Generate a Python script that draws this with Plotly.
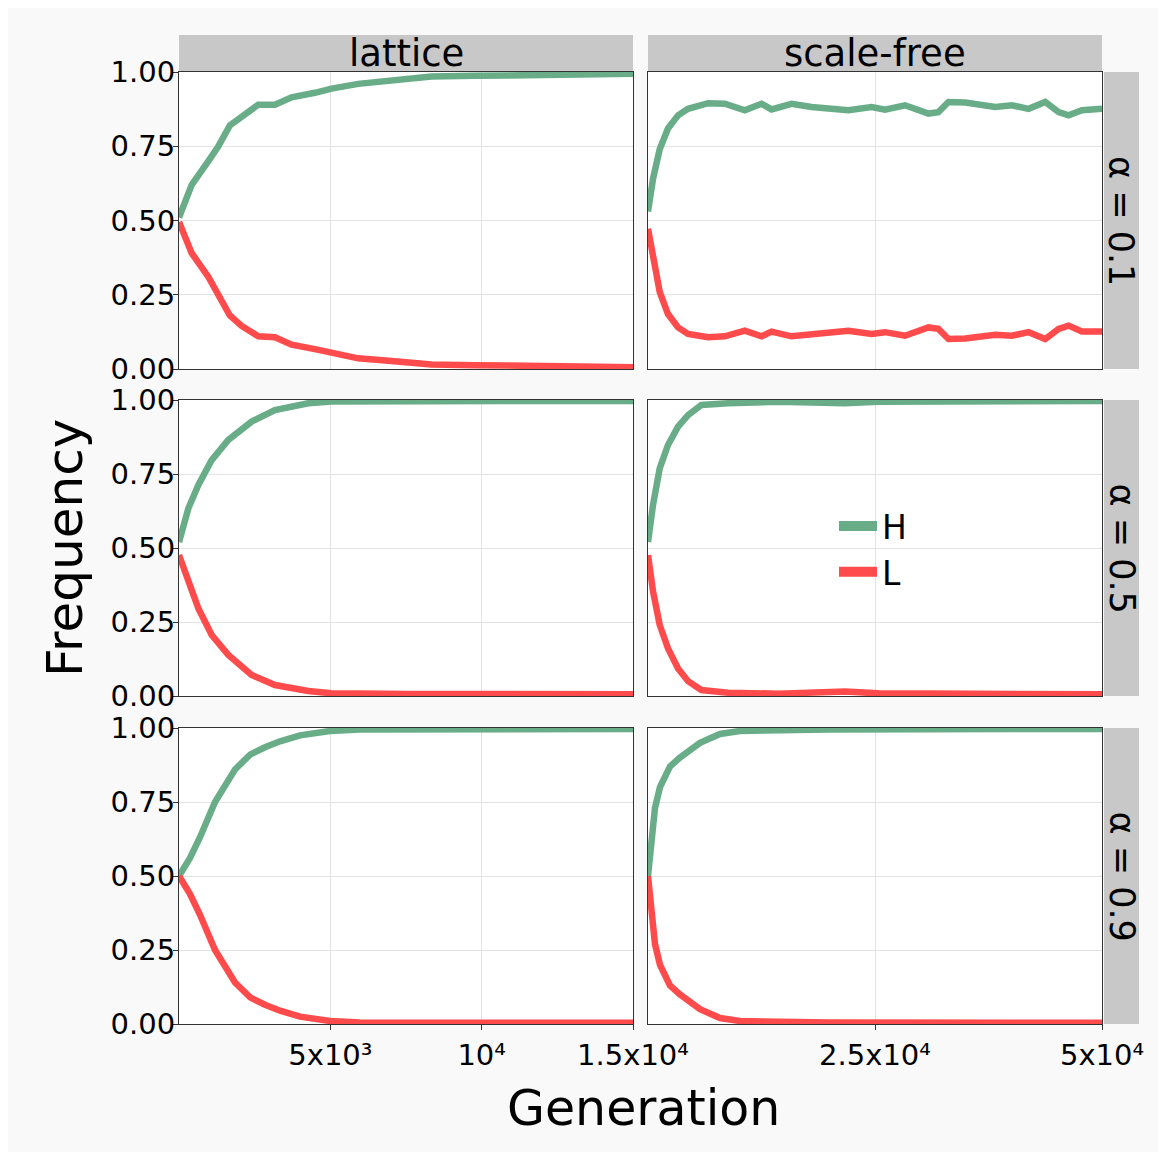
import plotly.graph_objects as go

# ---------------- data ----------------
# lattice, alpha = 0.1
gen_lat_01 = [0, 420, 970, 1300, 1680, 2070, 2620, 3170, 3720, 4490, 5040, 5920, 7020, 8340, 9770, 11420, 13070, 15000]
H_lat_01 = [0.51, 0.62, 0.70, 0.75, 0.82, 0.85, 0.89, 0.89, 0.915, 0.93, 0.944, 0.96, 0.972, 0.985, 0.987, 0.989, 0.991, 0.994]
L_lat_01 = [0.495, 0.39, 0.31, 0.25, 0.18, 0.145, 0.11, 0.107, 0.082, 0.067, 0.055, 0.036, 0.027, 0.015, 0.013, 0.011, 0.009, 0.006]

# scale-free, alpha = 0.1
gen_sf_01 = [0, 550, 1290, 2200, 3310, 4410, 6620, 8460, 10660, 12500, 13600, 15810, 18010, 20220, 22060, 24630,
             26100, 28310, 30880, 31980, 33090, 34930, 38240, 40070, 41910, 43750, 45220, 46320, 47790, 50000]
H_sf_01 = [0.53, 0.64, 0.74, 0.81, 0.854, 0.876, 0.895, 0.893, 0.871, 0.893, 0.874, 0.893, 0.882, 0.876, 0.871, 0.882,
           0.873, 0.888, 0.86, 0.865, 0.899, 0.897, 0.882, 0.888, 0.876, 0.899, 0.865, 0.854, 0.871, 0.876]
L_sf_01 = [0.472, 0.37, 0.26, 0.185, 0.14, 0.118, 0.107, 0.11, 0.129, 0.11, 0.126, 0.11, 0.118, 0.124, 0.129, 0.118,
           0.124, 0.112, 0.14, 0.135, 0.101, 0.103, 0.115, 0.112, 0.124, 0.101, 0.135, 0.146, 0.126, 0.126]

# lattice, alpha = 0.5
gen_lat_05 = [0, 310, 640, 1080, 1630, 2400, 3170, 4270, 5040, 7570, 10870, 15000]
H_lat_05 = [0.52, 0.634, 0.713, 0.797, 0.865, 0.927, 0.966, 0.989, 0.995, 0.997, 0.997, 0.997]
L_lat_05 = [0.476, 0.386, 0.296, 0.206, 0.139, 0.071, 0.037, 0.017, 0.009, 0.007, 0.007, 0.006]

# scale-free, alpha = 0.5
gen_sf_05 = [0, 550, 1290, 2200, 3310, 4410, 5880, 8820, 14340, 19850, 21690, 25370, 36400, 50000]
H_sf_05 = [0.52, 0.645, 0.769, 0.848, 0.91, 0.949, 0.983, 0.989, 0.994, 0.992, 0.989, 0.994, 0.994, 0.997]
L_sf_05 = [0.476, 0.354, 0.24, 0.161, 0.093, 0.05, 0.02, 0.011, 0.008, 0.012, 0.015, 0.009, 0.008, 0.006]

# lattice, alpha = 0.9
gen_lat_09 = [0, 360, 690, 1190, 1850, 2350, 2840, 3340, 4000, 4990, 5980, 15000]
H_lat_09 = [0.5, 0.56, 0.63, 0.75, 0.86, 0.91, 0.935, 0.955, 0.975, 0.99, 0.995, 0.997]
L_lat_09 = [0.5, 0.44, 0.37, 0.25, 0.14, 0.09, 0.065, 0.045, 0.025, 0.01, 0.005, 0.004]

# scale-free, alpha = 0.9
gen_sf_09 = [0, 770, 1320, 2420, 3520, 5730, 7930, 10130, 20000, 35000, 50000]
H_sf_09 = [0.5, 0.73, 0.8, 0.87, 0.9, 0.95, 0.98, 0.99, 0.995, 0.996, 0.997]
L_sf_09 = [0.5, 0.27, 0.2, 0.13, 0.1, 0.05, 0.02, 0.01, 0.005, 0.004, 0.004]

networks = ["lattice", "scale-free"]
alphas = ["α = 0.1", "α = 0.5", "α = 0.9"]
series_names = ["H", "L"]

panels = {
    (0, 0): (gen_lat_01, H_lat_01, L_lat_01),
    (0, 1): (gen_sf_01, H_sf_01, L_sf_01),
    (1, 0): (gen_lat_05, H_lat_05, L_lat_05),
    (1, 1): (gen_sf_05, H_sf_05, L_sf_05),
    (2, 0): (gen_lat_09, H_lat_09, L_lat_09),
    (2, 1): (gen_sf_09, H_sf_09, L_sf_09),
}

x_max = [15000, 50000]
x_tickvals = [[5000, 10000, 15000], [25000, 50000]]
x_ticktext = [["5x10³", "10⁴", "1.5x10⁴"], ["2.5x10⁴", "5x10⁴"]]
y_tickvals = [0, 0.25, 0.5, 0.75, 1.0]
y_ticktext = ["0.00", "0.25", "0.50", "0.75", "1.00"]

# ---------------- styling ----------------
GREEN = "#69ad88"
RED = "#ff4b4b"
colors = {"H": GREEN, "L": RED}
FONT = "DejaVu Sans"
STRIP = "#c8c8c8"

W, H = 1150, 1144
ML, MR, MT, MB = 171, 56, 64, 128
PW = W - ML - MR
PH = H - MT - MB

def px_x(a, b):
    return [(a - ML) / PW, (b - ML) / PW]

def px_y(top, bottom):
    # figure pixel rows -> paper domain
    return [(H - MB - bottom) / PH, (H - MB - top) / PH]

col_dom = [px_x(171, 625), px_x(640, 1094)]
row_dom = [px_y(64, 361), px_y(392, 688), px_y(720, 1016)]

fig = go.Figure()
layout = {}

for (r, c), (gx, hy, ly) in panels.items():
    idx = r * 2 + c + 1
    xa = "x" if idx == 1 else f"x{idx}"
    ya = "y" if idx == 1 else f"y{idx}"
    for name, vals in zip(series_names, [hy, ly]):
        fig.add_trace(go.Scatter(
            x=gx, y=vals, mode="lines", name=name, showlegend=False,
            line=dict(color=colors[name], width=6.5),
            xaxis=xa, yaxis=ya, hoverinfo="skip"))
    xkey = "xaxis" if idx == 1 else f"xaxis{idx}"
    ykey = "yaxis" if idx == 1 else f"yaxis{idx}"
    bottom = (r == 2)
    left = (c == 0)
    layout[xkey] = dict(
        domain=col_dom[c], anchor=ya, range=[0, x_max[c]], automargin=False,
        tickvals=x_tickvals[c], ticktext=x_ticktext[c],
        showticklabels=bottom, ticks="outside" if bottom else "",
        ticklen=5, tickcolor="#333", tickfont=dict(family=FONT, size=29, color="black"),
        showgrid=True, gridcolor="#e3e3e3", gridwidth=1, zeroline=False,
        showline=True, mirror=True, linecolor="#333", linewidth=1.2,
    )
    layout[ykey] = dict(
        domain=row_dom[r], anchor=xa, range=[0, 1], automargin=False,
        tickvals=y_tickvals, ticktext=y_ticktext,
        showticklabels=left, ticks="outside" if left else "",
        ticklen=5, tickcolor="#333", tickfont=dict(family=FONT, size=29, color="black"),
        ticklabelstandoff=-8,
        showgrid=True, gridcolor="#e3e3e3", gridwidth=1, zeroline=False,
        showline=True, mirror=True, linecolor="#333", linewidth=1.2,
    )

# legend-only traces (thicker swatches)
for name in series_names:
    fig.add_trace(go.Scatter(x=[None], y=[None], mode="lines", name=name,
                             line=dict(color=colors[name], width=10),
                             xaxis="x4", yaxis="y4", showlegend=True))

shapes = []
annotations = []
# top strips
for c, net in enumerate(networks):
    x0, x1 = col_dom[c]
    y0 = (H - MB - 63) / PH
    y1 = (H - MB - 27) / PH
    shapes.append(dict(type="rect", xref="paper", yref="paper", x0=x0, x1=x1, y0=y0, y1=y1,
                       fillcolor=STRIP, line=dict(width=0), layer="below"))
    annotations.append(dict(text=net, xref="paper", yref="paper", x=(x0 + x1) / 2, y=(y0 + y1) / 2,
                            showarrow=False, font=dict(family=FONT, size=37, color="black"),
                            xanchor="center", yanchor="middle"))
# right strips
for r, al in enumerate(alphas):
    y0, y1 = row_dom[r]
    x0 = (1096 - ML) / PW
    x1 = (1131 - ML) / PW
    shapes.append(dict(type="rect", xref="paper", yref="paper", x0=x0, x1=x1, y0=y0, y1=y1,
                       fillcolor=STRIP, line=dict(width=0), layer="below"))
    annotations.append(dict(text=al, xref="paper", yref="paper", x=(x0 + x1) / 2, y=(y0 + y1) / 2,
                            showarrow=False, textangle=90, font=dict(family=FONT, size=35, color="black"),
                            xanchor="center", yanchor="middle"))

# axis titles
annotations.append(dict(text="Frequency", xref="paper", yref="paper", x=(57 - ML) / PW,
                        y=(H - MB - 540) / PH,
                        showarrow=False, textangle=-90, font=dict(family=FONT, size=50, color="black"),
                        xanchor="center", yanchor="middle"))
annotations.append(dict(text="Generation", xref="paper", yref="paper", x=(635 - ML) / PW,
                        y=(H - MB - 1100) / PH, showarrow=False,
                        font=dict(family=FONT, size=49, color="black"),
                        xanchor="center", yanchor="middle"))

fig.update_layout(
    width=W, height=H,
    margin=dict(l=ML, r=MR, t=MT, b=MB, pad=0, autoexpand=False),
    paper_bgcolor="#f9f9f9", plot_bgcolor="white",
    font=dict(family=FONT, color="black"),
    shapes=shapes, annotations=annotations,
    legend=dict(x=(826 - ML) / PW, y=(H - MB - 541) / PH, xanchor="left", yanchor="middle",
                bgcolor="rgba(0,0,0,0)", font=dict(family=FONT, size=33, color="black"),
                tracegroupgap=0, itemwidth=38),
    **layout,
)

fig.write_html("out.html")
